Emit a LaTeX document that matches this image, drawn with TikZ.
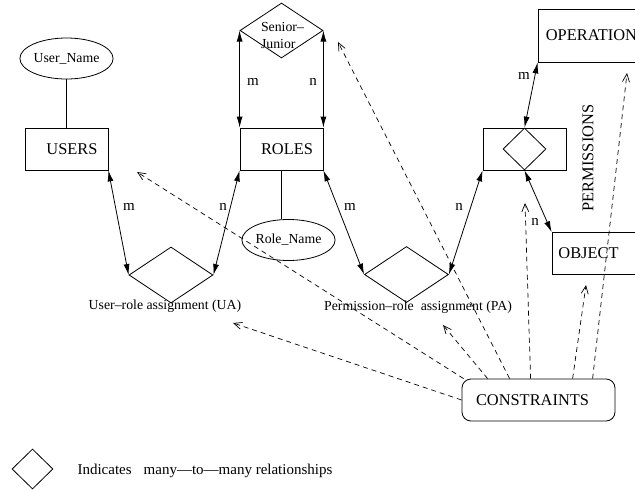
\documentclass[tikz,border=0pt]{standalone}
\usepackage{fontspec}
\setmainfont{Liberation Serif}
\usepackage{tikz}
\usetikzlibrary{arrows.meta,shapes.geometric}
\newcommand{\entfont}{\fontsize{16.4}{19}\selectfont}
\newcommand{\labfont}{\fontsize{13.8}{17}\selectfont}
\newcommand{\legfont}{\fontsize{15}{17}\selectfont}
\newcommand{\cardfont}{\fontsize{15}{17}\selectfont}
\tikzstyle{entity} = [draw, line width=0.8pt, minimum width=83pt, minimum height=42pt, inner sep=0pt, font=\entfont]
\tikzstyle{attrib} = [draw, ellipse, line width=0.8pt, minimum width=83pt, minimum height=41pt, inner sep=0pt, font=\labfont]
\tikzstyle{relation} = [draw, diamond, line width=0.8pt, minimum width=84pt, minimum height=56pt, inner sep=0pt]
\tikzstyle{card} = [font=\cardfont, inner sep=0pt]
\tikzstyle{link} = [line width=0.8pt, {Latex[length=11pt,width=6pt]}-{Latex[length=11pt,width=6pt]}]
\tikzstyle{constr} = [line width=0.7pt, dash pattern=on 5pt off 4pt, -{Straight Barb[length=8pt,width=7pt]}]

\begin{document}
\begin{tikzpicture}[x=1pt,y=-1pt]
    \useasboundingbox (0,0) rectangle (635,490);
    \node[attrib] (uname) at (66.5,58.5) {User\_Name};
    \node[entity] (users) at (66.5,149) {\hspace*{11pt}USERS};
    \node[entity] (roles) at (281.5,149) {\hspace*{11pt}ROLES};
    \node[relation, minimum width=83pt, minimum height=55pt] (senior) at (281.5,30.5) {};
    \node[font=\labfont, align=left, inner sep=0pt] (seniortxt) at (282.5,35.5) {Senior--\\Junior};
    \node[attrib] (rname) at (288.5,240) {Role\_Name};
    \node[relation] (ua) at (171,275) {};
    \node[font=\labfont] (uatxt) at (165,306) {User--role assignment (UA)};
    \node[relation] (pa) at (406.5,274.5) {};
    \node[font=\labfont] (patxt) at (418,307) {Permission--role\ \ assignment (PA)};
    \node[entity] (permbox) at (524.5,149) {};
    \node[relation, minimum width=43pt, minimum height=42pt] (permrel) at (524.5,149) {};
    \node[entity, minimum width=116pt, minimum height=53pt] (oper) at (596,35.5) {OPERATIONS};
    \node[entity] (object) at (593.5,253.5) {OBJECT\hspace*{10pt}};
    \node[font=\entfont, rotate=90] (permtxt) at (588,158) {PERMISSIONS};
    \node[entity, rounded corners=9pt, minimum width=153pt] (cons) at (538.5,400) {CONSTRAINTS\hspace*{12pt}};
    \node[relation, minimum width=41pt, minimum height=40pt] (legend) at (32.5,469) {};
    \node[font=\legfont, anchor=west] (legtxt) at (74,471)
        {Indicates\hspace*{12pt}many---to---many relationships};

    \draw[line width=0.8pt] (uname.south) -- (users.north);
    \draw[line width=0.8pt] (roles.south) -- (roles.south |- rname.north);

    \draw[link] (users.south east) -- (ua.west);
    \draw[link] (roles.south west) -- (ua.east);
    \draw[link] (roles.south east) -- (pa.west);
    \draw[link] (pa.east) -- (permbox.south west);
    \draw[link] (roles.north west) -- (senior.west);
    \draw[link] (roles.north east) -- (senior.east);
    \draw[link] (permrel.north) -- (oper.south west);
    \draw[link] (permrel.south) -- (object.north west);

    \node[card] (m1) at (129,207) {m};
    \node[card] (n1) at (223,207) {n};
    \node[card] (m2) at (350,207) {m};
    \node[card] (n2) at (459,207) {n};
    \node[card] (m3) at (253,82) {m};
    \node[card] (n3) at (313,82) {n};
    \node[card] (m4) at (524,76) {m};
    \node[card] (n4) at (535,222) {n};

    \coordinate (tua) at (233,323);
    \coordinate (tusers) at (137,172);
    \coordinate (tpa) at (443,325);
    \coordinate (tsenior) at (338,42);
    \coordinate (tperm) at (525,203);
    \coordinate (tobject) at (586,285);
    \coordinate (toper) at (627,73);
    \draw[constr] (cons.west) -- (tua);
    \foreach \dx/\tip in {2/tusers,26/tpa,48/tsenior,69/tperm,111/tobject,131/toper}{
        \draw[constr] ([xshift=\dx pt]cons.north west) -- (\tip);
    }
\end{tikzpicture}
\end{document}
